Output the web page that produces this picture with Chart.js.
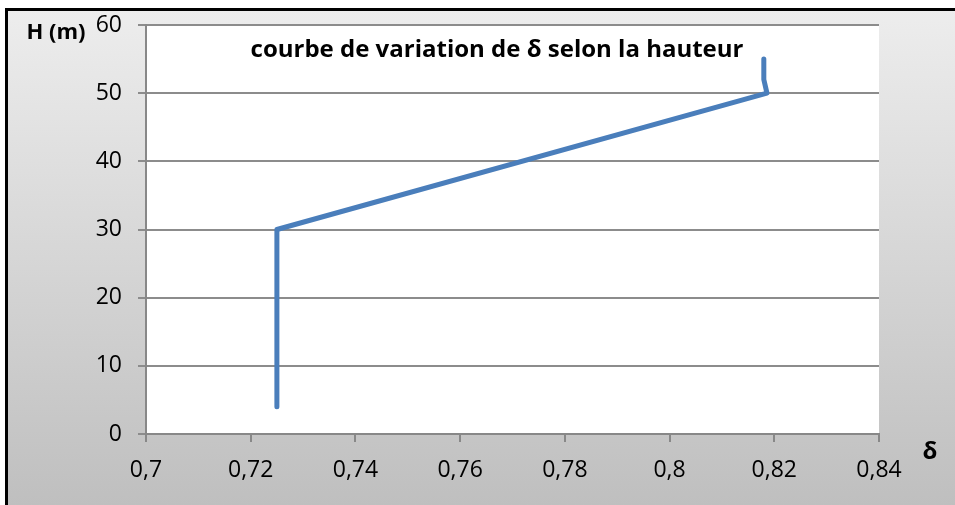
<!DOCTYPE html>
<html>
<head>
<meta charset="utf-8">
<script src="https://cdn.jsdelivr.net/npm/chart.js@4"></script>
<style>
  html, body { margin: 0; padding: 0; background: #fff; }
  #wrap { width: 955px; height: 505px; }
</style>
</head>
<body>
<div id="wrap"><canvas id="delta_chart" width="955" height="505"></canvas></div>
<script>
// delta values and heights
let deltaValues = [0.725, 0.725, 0.8186, 0.818, 0.818];
let heightValues = [4, 30, 50, 52, 55];
let xTicks = [0.7, 0.72, 0.74, 0.76, 0.78, 0.8, 0.82, 0.84];
let yTicks = [0, 10, 20, 30, 40, 50, 60];

let chartTitle = "courbe de variation de δ selon la hauteur";
let yAxisTitle = "H (m)";
let xAxisTitle = "δ";

let points = [];
for (let i = 0; i < deltaValues.length; i++) {
  points.push({ x: deltaValues[i], y: heightValues[i] });
}

function formatTick(v) {
  return Number(v.toFixed(2)).toString().replace(".", ",");
}

const fontName = "'Open Sans', sans-serif";

const backgroundPlugin = {
  id: "background",
  beforeDraw(chart) {
    const c = chart.ctx;
    const w = chart.width, h = chart.height;
    c.save();
    c.fillStyle = "#ffffff";
    c.fillRect(0, 0, w, h);
    let grad = c.createLinearGradient(0, 10, 0, h);
    grad.addColorStop(0, "#ededed");
    grad.addColorStop(1, "#bfbfbf");
    c.fillStyle = grad;
    c.fillRect(6, 9, w - 6, h - 9);
    // black frame (left and top)
    c.fillStyle = "#000000";
    c.fillRect(5, 8, w - 5, 3);
    c.fillRect(5, 8, 3, h - 8);
    // plot area
    const a = chart.chartArea;
    c.fillStyle = "#ffffff";
    c.fillRect(a.left, a.top, a.right - a.left, a.bottom - a.top);
    c.restore();
  },
  afterDraw(chart) {
    const c = chart.ctx;
    c.save();
    c.fillStyle = "#000000";
    c.textBaseline = "middle";
    c.textAlign = "center";
    c.font = "bold 24px " + fontName;
    c.fillText(chartTitle, 497, 50);
    c.font = "bold 22px " + fontName;
    c.fillText(yAxisTitle, 56, 33);
    c.font = "bold 24px " + fontName;
    c.fillText(xAxisTitle, 930, 452);
    c.restore();
  },
};

const ctx = document.getElementById("delta_chart");

new Chart(ctx, {
  type: "scatter",
  data: {
    datasets: [
      {
        label: "delta",
        data: points,
        showLine: true,
        borderColor: "#4a7ebb",
        borderWidth: 5,
        borderCapStyle: "round",
        borderJoinStyle: "round",
        pointRadius: 0,
        fill: false,
        tension: 0,
      },
    ],
  },
  options: {
    responsive: false,
    animation: false,
    devicePixelRatio: 1,
    layout: {
      padding: { left: 0, top: 25, right: 76, bottom: 0 },
    },
    scales: {
      x: {
        type: "linear",
        min: 0.7,
        max: 0.84,
        afterBuildTicks: (s) => {
          s.ticks = xTicks.map((v) => ({ value: v }));
        },
        afterFit: (s) => {
          s.height = 71;
          s.paddingLeft = 0;
          s.paddingRight = 0;
        },
        ticks: {
          callback: (v) => formatTick(v),
          color: "#000000",
          font: { family: fontName, size: 23 },
          padding: 15,
          maxRotation: 0,
        },
        grid: {
          drawOnChartArea: false,
          drawTicks: true,
          tickLength: 8,
          color: "#888888",
          lineWidth: 2,
        },
        border: { color: "#888888", width: 2 },
      },
      y: {
        type: "linear",
        min: 0,
        max: 60,
        afterBuildTicks: (s) => {
          s.ticks = yTicks.map((v) => ({ value: v }));
        },
        afterFit: (s) => {
          s.width = 146;
          s.paddingTop = 0;
          s.paddingBottom = 0;
        },
        ticks: {
          color: "#000000",
          font: { family: fontName, size: 23 },
          padding: 16,
        },
        grid: {
          color: "#8c8c8c",
          lineWidth: 2,
          tickLength: 8,
        },
        border: { color: "#888888", width: 2 },
      },
    },
    plugins: {
      legend: false,
      tooltip: { enabled: false },
    },
  },
  plugins: [backgroundPlugin],
});
</script>
</body>
</html>
